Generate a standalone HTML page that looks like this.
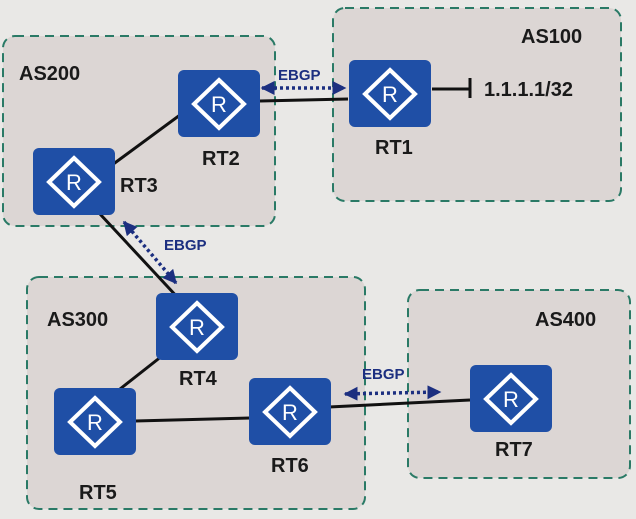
<!DOCTYPE html>
<html><head><style>body{margin:0;background:#e9e8e6}svg{display:block}</style></head><body>
<svg width="636" height="519" viewBox="0 0 636 519" xmlns="http://www.w3.org/2000/svg" font-family="Liberation Sans, sans-serif">
<defs>
<g id="r"><rect x="0" y="0" width="82" height="67" rx="6" fill="#1f4fa6"/>
<polygon points="41,10 66,34 41,58 16,34" fill="none" stroke="#fff" stroke-width="4"/>
<text x="41" y="42" text-anchor="middle" font-size="22" fill="#fff">R</text></g>
<marker id="a" viewBox="0 0 10 10" refX="9" refY="5" markerWidth="4" markerHeight="4" orient="auto-start-reverse"><path d="M0,0L10,5L0,10z" fill="#1c2f80"/></marker>
</defs>
<rect width="636" height="519" fill="#e9e8e6"/>
<g fill="#dcd6d4" stroke="#2a7a66" stroke-width="2" stroke-dasharray="9,6">
<rect x="3" y="36" width="272" height="190" rx="12"/>
<rect x="333" y="8" width="288" height="193" rx="12"/>
<rect x="27" y="277" width="338" height="232" rx="12"/>
<rect x="408" y="290" width="222" height="188" rx="12"/>
</g>
<g stroke="#111" stroke-width="3">
<line x1="180" y1="115" x2="112" y2="165"/>
<line x1="260" y1="101" x2="348" y2="99"/>
<line x1="432" y1="89" x2="470" y2="89"/>
<line x1="470" y1="78" x2="470" y2="98"/>
<line x1="100" y1="214" x2="180" y2="300"/>
<line x1="162" y1="356" x2="120" y2="389"/>
<line x1="135" y1="421" x2="250" y2="418"/>
<line x1="329" y1="407" x2="470" y2="400"/>
</g>
<g stroke="#1c2f80" stroke-width="3.5" stroke-dasharray="3,3" marker-start="url(#a)" marker-end="url(#a)">
<line x1="262" y1="88" x2="345" y2="88"/>
<line x1="124" y1="222" x2="176" y2="283"/>
<line x1="345" y1="394" x2="440" y2="392"/>
</g>
<use href="#r" x="178" y="70"/><use href="#r" x="349" y="60"/><use href="#r" x="33" y="148"/>
<use href="#r" x="156" y="293"/><use href="#r" x="54" y="388"/><use href="#r" x="249" y="378"/><use href="#r" x="470" y="365"/>
<g font-size="20" font-weight="bold" fill="#1a1a1a">
<text x="19" y="80">AS200</text><text x="521" y="43">AS100</text>
<text x="47" y="326">AS300</text><text x="535" y="326">AS400</text>
<text x="202" y="165">RT2</text><text x="120" y="192">RT3</text><text x="375" y="154">RT1</text>
<text x="179" y="385">RT4</text><text x="79" y="499">RT5</text><text x="271" y="472">RT6</text><text x="495" y="456">RT7</text>
<text x="484" y="96">1.1.1.1/32</text>
</g>
<g font-size="15" font-weight="bold" fill="#1c2f80">
<text x="278" y="80">EBGP</text><text x="164" y="250">EBGP</text><text x="362" y="379">EBGP</text>
</g>
</svg>
</body></html>
